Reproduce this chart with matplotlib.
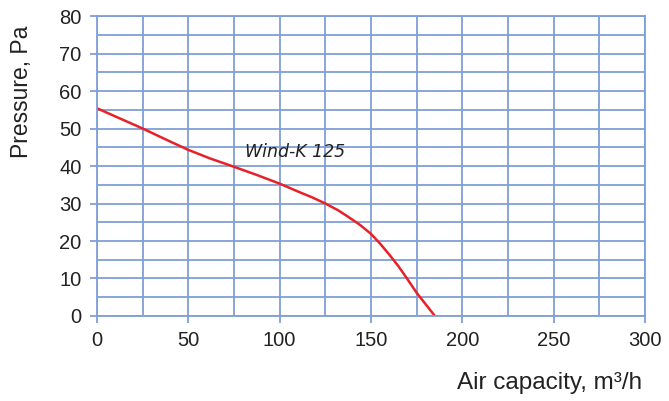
import numpy as np
import matplotlib
matplotlib.use("Agg")
import matplotlib.pyplot as plt

# curve
air = [0, 12, 25, 38, 50, 62, 75, 87, 100, 111, 118, 125, 132, 138, 144,
       150, 155, 160, 165, 170, 175, 180, 185]
pressure = [55.4, 52.8, 50, 47, 44.3, 42, 39.8, 37.7, 35.3, 33, 31.6, 30,
            28.2, 26.3, 24.3, 21.9, 19.3, 16.4, 13.3, 9.8, 6.2, 3.1, 0]

x_ticks = [0, 50, 100, 150, 200, 250, 300]
y_ticks = [0, 10, 20, 30, 40, 50, 60, 70, 80]
model = "Wind-K 125"

GRID = "#7f9fd6"

plt.rcParams['font.family'] = ['Liberation Sans', 'DejaVu Sans']

fig = plt.figure(figsize=(6.69, 4.01), dpi=100)
ax = fig.add_axes([0.145, 0.212, 0.819, 0.748])

ax.set_xlim(0, 300)
ax.set_ylim(0, 80)
ax.set_xticks(x_ticks)
ax.set_yticks(y_ticks)
ax.set_xticks(np.arange(0, 301, 25), minor=True)
ax.set_yticks(np.arange(0, 81, 5), minor=True)
ax.grid(True, which='both', color=GRID, linewidth=1.3)
ax.set_axisbelow(True)
for s in ax.spines.values():
    s.set_color(GRID)
    s.set_linewidth(1.3)
ax.tick_params(which='major', length=5, color=GRID, width=1.3,
               labelsize=14.5, pad=6, labelcolor='#222222')
ax.tick_params(which='minor', length=0)

ax.plot(air, pressure, color='#e8202a', linewidth=1.8,
        solid_joinstyle='round', solid_capstyle='round')

ax.text(81, 42.3, model, fontstyle='italic', fontsize=12.5, color='#222222',
        family=['DejaVu Sans'])

fig.text(0.032, 0.77, "Pressure, Pa", rotation=90, fontsize=16.5,
         color='#222222', ha='center', va='center')
fig.text(0.96, 0.045, "Air capacity, m³/h", fontsize=17.5, color='#222222',
         ha='right', va='center')

fig.savefig("out.png", dpi=100)
